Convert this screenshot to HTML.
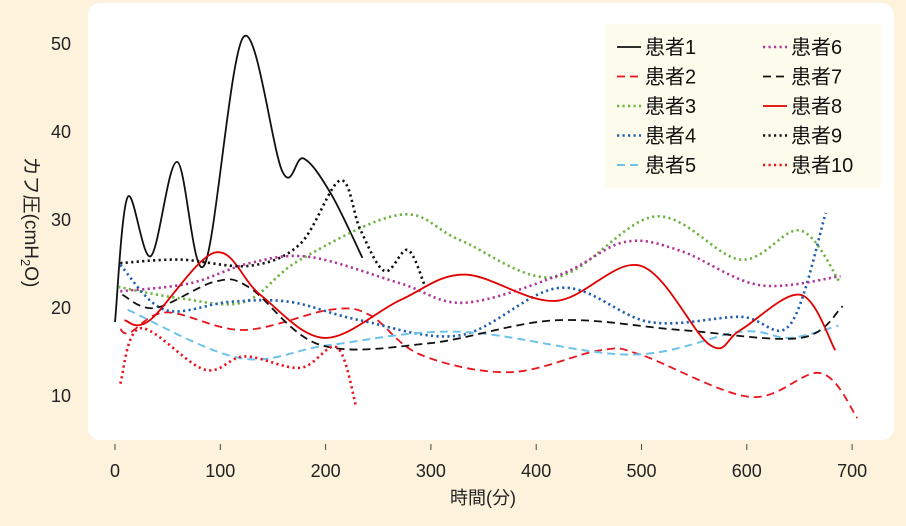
<!DOCTYPE html>
<html><head><meta charset="utf-8">
<style>
body{margin:0;background:#fdf3dc;}
svg{display:block;font-family:"Liberation Sans","Noto Sans CJK JP",sans-serif;}
</style></head>
<body>
<svg id="chart" width="906" height="526" viewBox="0 0 906 526">
<rect x="0" y="0" width="906" height="526" fill="#fdf3dc"/>
<rect x="88" y="3" width="806" height="437" rx="12" fill="#ffffff"/>
<g id="axes"></g>
<g id="series"></g>
<g id="legend"></g>
<text x="483" y="504" font-size="18" text-anchor="middle" fill="#222">時間(分)</text>
<text transform="translate(25,222) rotate(90)" font-size="19" text-anchor="middle" fill="#222">カフ圧(cmH<tspan font-size="13" dy="4">2</tspan><tspan dy="-4">O)</tspan></text>
</svg>
<script>
const xTicks=[0,100,200,300,400,500,600,700];
const yTicks=[10,20,30,40,50];
const seriesNames=["患者1","患者2","患者3","患者4","患者5","患者6","患者7","患者8","患者9","患者10"];
const p1=[[0,18.4],[12,32.6],[34,25.9],[59,36.6],[85,24.9],[122,50.8],[159,35.5],[179,37],[205,33],[235,25.7]];
const p2=[[5,17.6],[14,17.2],[49,19.5],[122,17.5],[204,19.8],[242,19.2],[290,14.7],[375,12.7],[461,15.2],[499,14.7],[603,9.9],[670,12.6],[705,7.5]];
const p3=[[3,22.4],[62,21.1],[123,20.7],[176,25.5],[271,30.6],[328,27.7],[418,23.5],[513,30.4],[594,25.5],[651,28.8],[689,22.8]];
const p4=[[5,24.9],[47,19.8],[109,20.7],[166,20.7],[233,18.6],[328,16.9],[423,22.3],[508,18.4],[594,19],[641,18.1],[675,30.8]];
const p5=[[12,19.8],[119,14.3],[204,15.8],[328,17.3],[489,14.7],[594,17.3],[641,16.6],[687,18]];
const p6=[[5,21.9],[71,22.8],[128,25.1],[185,25.8],[271,22.8],[332,20.6],[423,23.8],[484,27.5],[537,26.5],[612,22.6],[689,23.6]];
const p7=[[7,21.5],[38,20],[95,23],[128,22.3],[195,15.8],[299,16],[418,18.6],[537,17.5],[651,16.6],[691,20.2]];
const p8=[[9,18.6],[33,18.6],[95,26.3],[138,21.5],[199,16.6],[271,20.9],[332,23.8],[418,20.8],[499,24.8],[565,15.8],[594,17.5],[651,21.5],[684,15.2]];
const p9=[[5,25.1],[62,25.5],[128,24.8],[176,27.3],[214,34.5],[233,28.9],[256,24.2],[278,26.6],[294,22.6]];
const p10=[[5,11.4],[24,17.7],[85,13],[123,14.5],[176,13.2],[211,15.5],[229,8.8]];
const allSeries=[p1,p2,p3,p4,p5,p6,p7,p8,p9,p10];
const colors=["#111","#e8141e","#6cb33f","#1f5fb0","#6ec3ea","#b0369a","#111","#e00000","#111","#e8141e"];
const dashes=["","8,5","2.2,3.3","2.2,3.3","8,5","2.2,3.3","8,5","","2.2,3.3","2.2,3.3"];
const widths=[1.8,1.8,2.6,2.6,2,2.6,1.8,1.8,2.6,2.6];
const NS="http://www.w3.org/2000/svg";
const X=t=>115+t*1.053;
const Y=v=>44+(50-v)*8.8;
const axes=document.getElementById('axes');
xTicks.forEach(t=>{
  const l=document.createElementNS(NS,'line');
  
  
  l.setAttribute('x1',X(t));l.setAttribute('x2',X(t));l.setAttribute('y1',444);l.setAttribute('y2',450);l.setAttribute('stroke','#444');
  axes.appendChild(l);
  const tx=document.createElementNS(NS,'text');
  
  
  tx.setAttribute('x',X(t));tx.setAttribute('y',477);tx.setAttribute('font-size','18');tx.setAttribute('text-anchor','middle');tx.setAttribute('fill','#222');
  tx.textContent=t;axes.appendChild(tx);
});
yTicks.forEach(v=>{
  const tx=document.createElementNS(NS,'text');
  
  
  tx.setAttribute('x',71);tx.setAttribute('y',Y(v)+6);tx.setAttribute('font-size','18');tx.setAttribute('text-anchor','end');tx.setAttribute('fill','#222');
  tx.textContent=v;axes.appendChild(tx);
});
function smooth(pts){
  const P=pts.map(p=>[X(p[0]),Y(p[1])]);
  let d='M'+P[0][0]+','+P[0][1];
  for(let i=0;i<P.length-1;i++){
    const p0=P[i-1]||P[i],p1=P[i],p2=P[i+1],p3=P[i+2]||p2;
    const c1=[p1[0]+(p2[0]-p0[0])/6,p1[1]+(p2[1]-p0[1])/6];
    const c2=[p2[0]-(p3[0]-p1[0])/6,p2[1]-(p3[1]-p1[1])/6];
    d+=' C'+c1[0]+','+c1[1]+' '+c2[0]+','+c2[1]+' '+p2[0]+','+p2[1];
  }
  return d;
}
const sg=document.getElementById('series');
allSeries.forEach((s,i)=>{
  const p=document.createElementNS(NS,'path');
  
  
  p.setAttribute('d',smooth(s));p.setAttribute('fill','none');p.setAttribute('stroke',colors[i]);
  p.setAttribute('stroke-width',widths[i]);if(dashes[i])p.setAttribute('stroke-dasharray',dashes[i]);
  sg.appendChild(p);
});
const lg=document.getElementById('legend');
const bg=document.createElementNS(NS,'rect');


bg.setAttribute('x',605);bg.setAttribute('y',24);bg.setAttribute('width',276);bg.setAttribute('height',164);bg.setAttribute('fill','#fdfbeb');
lg.appendChild(bg);
seriesNames.forEach((n,i)=>{
  const col=Math.floor(i/5),row=i%5;
  const x0=617+col*146,y0=47+row*29.5;
  const l=document.createElementNS(NS,'line');
  
  
  l.setAttribute('x1',x0);l.setAttribute('x2',x0+24);l.setAttribute('y1',y0);l.setAttribute('y2',y0);
  l.setAttribute('stroke',colors[i]);l.setAttribute('stroke-width',widths[i]);if(dashes[i])l.setAttribute('stroke-dasharray',dashes[i]);
  lg.appendChild(l);
  const t=document.createElementNS(NS,'text');
  
  
  t.setAttribute('x',x0+28);t.setAttribute('y',y0+7);t.setAttribute('font-size','20');t.setAttribute('fill','#111');
  t.textContent=n;lg.appendChild(t);
});
</script>
</body></html>
